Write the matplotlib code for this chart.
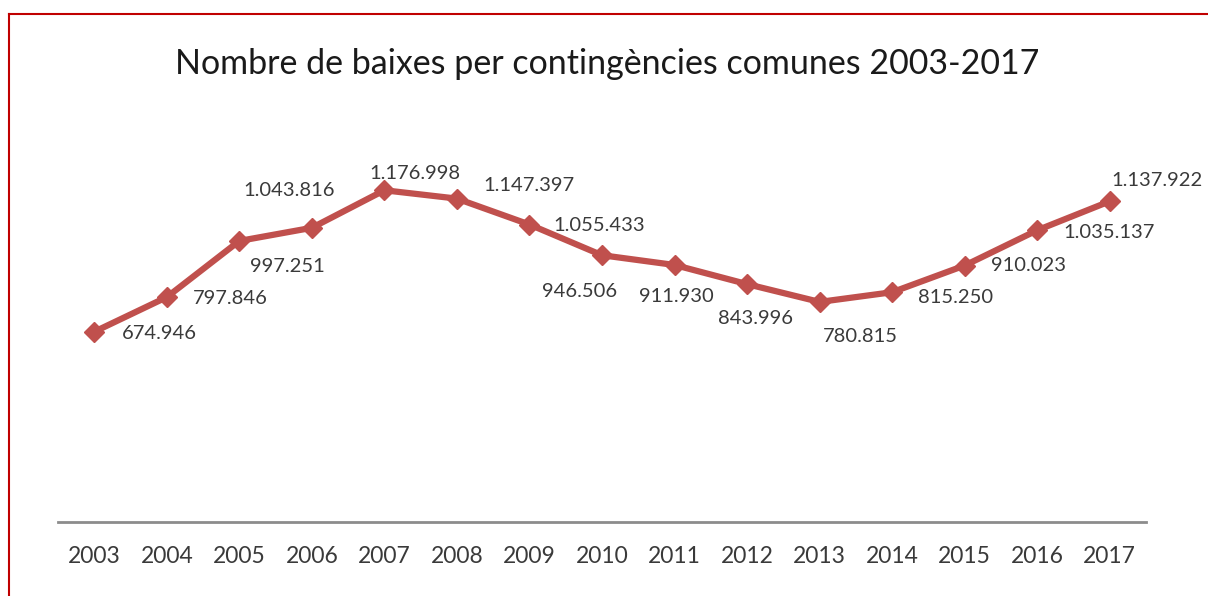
import matplotlib.pyplot as plt
from matplotlib.lines import Line2D

years = ["2003", "2004", "2005", "2006", "2007", "2008", "2009", "2010",
         "2011", "2012", "2013", "2014", "2015", "2016", "2017"]
baixes = [674946, 797846, 997251, 1043816, 1176998, 1147397, 1055433, 946506,
          911930, 843996, 780815, 815250, 910023, 1035137, 1137922]
labels = ["674.946", "797.846", "997.251", "1.043.816", "1.176.998", "1.147.397",
          "1.055.433", "946.506", "911.930", "843.996", "780.815", "815.250",
          "910.023", "1.035.137", "1.137.922"]
# label offsets in pixels (dx, dy), as placed in the original
offsets = [(65, -2), (64, -1), (48, -26), (-23, 37), (31, 17), (72, 13),
           (70, -1), (-22, -36), (2, -32), (8, -34), (41, -35), (63, -5),
           (64, 0), (72, -2), (47, 21)]

plt.rcParams["font.family"] = ["Lato", "DejaVu Sans"]
red = "#C0504D"
text_col = "#3a3a3a"

fig = plt.figure(figsize=(12.08, 5.96), dpi=100)
ax = fig.add_axes([0.048, 0.1242, 0.9007, 0.662])

x = range(len(years))
ax.plot(x, baixes, color=red, lw=4.5, marker="D", ms=10, zorder=3)
for i, (v, lab) in enumerate(zip(baixes, labels)):
    dx, dy = offsets[i]
    ax.annotate(lab, (i, v), xytext=(dx, dy), textcoords="offset pixels",
                ha="center", va="center", fontsize=14.5, color=text_col)

ax.set_xlim(-0.5, len(years) - 0.5)
ax.set_ylim(0, 1400000)
ax.set_xticks(list(x))
ax.set_xticklabels(years, fontsize=16.5, color=text_col)
ax.tick_params(axis="x", length=0, pad=17)
ax.set_yticks([])
for s in ["top", "right", "left"]:
    ax.spines[s].set_visible(False)
ax.spines["bottom"].set_color("#8C8C8C")
ax.spines["bottom"].set_linewidth(2)

fig.text(0.503, 0.893, "Nombre de baixes per contingències comunes 2003-2017",
         ha="center", va="center", fontsize=24.5, color="#1a1a1a")

# red frame (top and left edges visible)
fig.add_artist(Line2D([9 / 1208, 1.0], [1 - 14 / 596, 1 - 14 / 596],
                      transform=fig.transFigure, color="#C00000", lw=1.5))
fig.add_artist(Line2D([9 / 1208, 9 / 1208], [0, 1 - 14 / 596],
                      transform=fig.transFigure, color="#C00000", lw=1.5))

fig.savefig("out.png", dpi=100)
